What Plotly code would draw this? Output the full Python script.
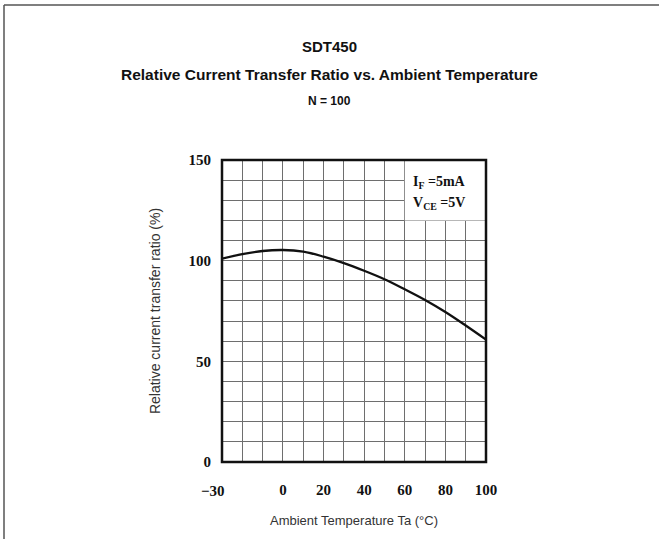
import plotly.graph_objects as go

temperature = [-30, -20, -10, 0, 10, 20, 30, 40, 50, 60, 70, 80, 90, 100]
ctr_relative = [101.0, 103.2, 104.8, 105.3, 104.5, 102.0, 98.8, 95.0, 90.8, 85.8, 80.5, 74.5, 67.8, 60.8]

x_tickvals = [-30, 0, 20, 40, 60, 80, 100]
x_ticktext = ["", "0", "20", "40", "60", "80", "100"]
y_tickvals = [0, 50, 100, 150]
y_ticktext = ["0", "50", "100", "150"]

W, H = 659, 539
ML, MR, MT, MB = 222, 173, 160, 77
PW = W - ML - MR
PH = H - MT - MB

grid_col = "#6e6e6e"
tick_font = dict(family="Liberation Serif", size=15, color="#111", weight="bold")

fig = go.Figure()
fig.add_trace(go.Scatter(
    x=temperature, y=ctr_relative, mode="lines",
    line=dict(color="#111", width=2.3, shape="spline", smoothing=1.0),
    hoverinfo="skip", showlegend=False,
))

fig.update_layout(
    width=W, height=H,
    margin=dict(l=ML, r=MR, t=MT, b=MB, pad=0),
    paper_bgcolor="white", plot_bgcolor="white",
    font=dict(family="Liberation Sans", color="#222"),
    xaxis=dict(
        range=[-30, 100], tickvals=x_tickvals, ticktext=x_ticktext,
        showgrid=True, gridcolor=grid_col, gridwidth=1,
        minor=dict(dtick=10, tick0=0, showgrid=True, gridcolor=grid_col, gridwidth=1),
        zeroline=False, showline=False, ticks="",
        tickfont=tick_font, ticklabelstandoff=17,
        title=dict(text="Ambient Temperature Ta (°C)", font=dict(size=13, color="#333"), standoff=18),
    ),
    yaxis=dict(
        range=[0, 150], tickvals=y_tickvals, ticktext=y_ticktext,
        showgrid=True, gridcolor=grid_col, gridwidth=1,
        minor=dict(dtick=10, tick0=0, showgrid=True, gridcolor=grid_col, gridwidth=1),
        zeroline=False, showline=False, ticks="",
        tickfont=tick_font, ticklabelstandoff=10,
        title=dict(text="Relative current transfer ratio (%)", font=dict(size=14, color="#333"), standoff=24),
    ),
)

# white condition box in the top-right corner
fig.add_shape(type="rect", xref="x", yref="y", x0=60, x1=100, y0=120, y1=150,
              fillcolor="white", line=dict(width=0), layer="above")
# plot frame
fig.add_shape(type="rect", xref="paper", yref="paper", x0=0, x1=1, y0=0, y1=1,
              line=dict(color="#111", width=2.5), layer="above")
# outer page frame (top and left edges)
fx0 = (4 - ML) / PW
fy_top = (H - 5 - MB) / PH
fig.add_shape(type="line", xref="paper", yref="paper", x0=fx0, x1=(W - ML) / PW, y0=fy_top, y1=fy_top,
              line=dict(color="#555", width=1.5), layer="above")
fig.add_shape(type="line", xref="paper", yref="paper", x0=fx0, x1=fx0, y0=fy_top, y1=-MB / PH,
              line=dict(color="#555", width=1.5), layer="above")

# shifted -30 tick label
fig.add_annotation(x=-30, y=0, xref="x", yref="y", text="−30", showarrow=False,
                   font=tick_font, xanchor="center", yanchor="top", xshift=-9, yshift=-19)

# condition labels
legend_font = dict(family="Liberation Serif", size=14, color="#111", weight="bold")
fig.add_annotation(x=77, y=139, xref="x", yref="y", showarrow=False, font=legend_font,
                   text="I<sub>F</sub> =5mA", xanchor="center", yanchor="middle")
fig.add_annotation(x=77, y=128.5, xref="x", yref="y", showarrow=False, font=legend_font,
                   text="V<sub>CE</sub> =5V", xanchor="center", yanchor="middle")

# titles
def title_y(px):
    return (H - px - MB) / PH

cx = (W / 2 - ML) / PW
fig.add_annotation(x=cx, y=title_y(46), xref="paper", yref="paper", showarrow=False,
                   xanchor="center", yanchor="middle",
                   text="<b>SDT450</b>", font=dict(family="Liberation Sans", size=15, color="#111"))
fig.add_annotation(x=cx, y=title_y(74), xref="paper", yref="paper", showarrow=False,
                   xanchor="center", yanchor="middle",
                   text="<b>Relative Current Transfer Ratio vs. Ambient Temperature</b>",
                   font=dict(family="Liberation Sans", size=15.5, color="#111"))
fig.add_annotation(x=cx, y=title_y(101), xref="paper", yref="paper", showarrow=False,
                   xanchor="center", yanchor="middle",
                   text="<b>N = 100</b>", font=dict(family="Liberation Sans", size=12, color="#111"))

fig.write_html("out.html", config={"displayModeBar": False},
               post_script="document.body.style.margin='0px';document.body.style.overflow='hidden';")
